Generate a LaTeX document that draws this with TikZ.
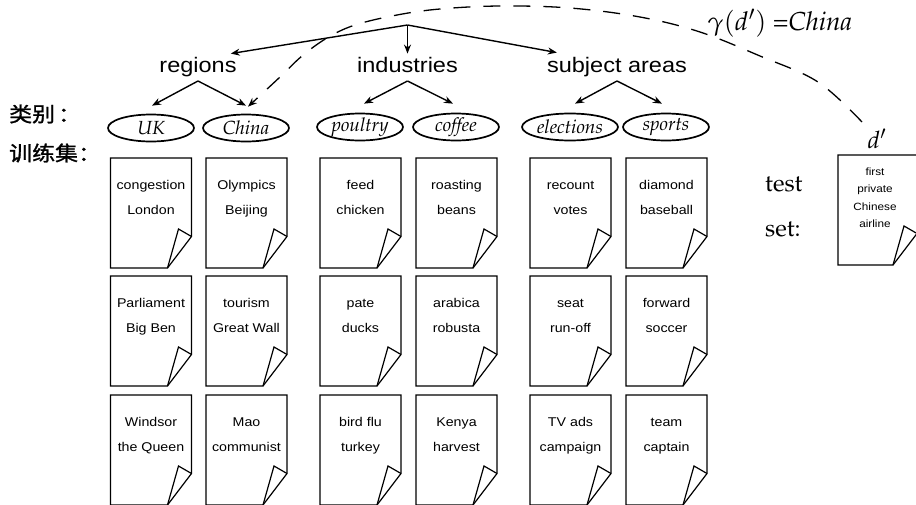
\documentclass[tikz,border=0pt]{standalone}
\usepackage[T1,TU]{fontenc}
\usepackage{mathpazo}
\usepackage{fontspec}
\newfontfamily\helv{Liberation Sans}[FakeStretch=1.12]
\newfontfamily\cjk{Noto Sans CJK SC}[FakeStretch=1.12,FakeBold=1.2]
\newcommand\pala{\usefont{T1}{ppl}{m}{n}}
\newcommand\palait{\usefont{T1}{ppl}{m}{it}}
\usetikzlibrary{arrows.meta,calc,shapes.geometric}

\tikzset{
  heading/.style={font=\helv\fontsize{21}{24}\selectfont, inner sep=0pt, anchor=base},
  cat/.style={ellipse, draw, line width=1.7pt, minimum width=86pt, minimum height=27pt,
    inner sep=0pt, font=\palait\fontsize{19}{21}\selectfont},
  arr/.style={line width=1.4pt, -{Stealth[length=9pt,width=7pt]}},
  dasharr/.style={line width=1.3pt, dash pattern=on 17pt off 13pt,
    -{Stealth[length=9pt,width=7pt]}},
  docframe/.style={minimum width=81pt, minimum height=110pt, inner sep=0pt, outer sep=0pt},
  docline/.style={line width=1.2pt, line join=miter},
  doctext/.style={font=\helv\fontsize{12.7}{14}\selectfont, anchor=base, inner sep=0pt},
  smalltext/.style={font=\helv\fontsize{10.5}{12}\selectfont, anchor=base, inner sep=0pt},
  serif/.style={font=\pala\fontsize{24}{26}\selectfont, inner sep=0pt},
  cjklabel/.style={font=\cjk\fontsize{20.5}{22}\selectfont, inner sep=0pt, anchor=west}
}

% page outline with a folded bottom-right corner
\newcommand\pageoutline[1]{%
  \draw[docline] (#1.north west) -- (#1.north east)
    -- ($(#1.south east)+(0,-31.5)$) -- ($(#1.south east)+(-24,0)$)
    -- (#1.south west) -- cycle;
  \draw[docline] ($(#1.south east)+(-24,0)$) -- ($(#1.south east)+(-13,-39)$)
    -- ($(#1.south east)+(0,-31.5)$);
}
% training document: name, centre x, top y, first line, second line
\newcommand\docpage[5]{%
  \node[docframe] (#1) at (#2,#3+55) {};
  \pageoutline{#1}
  \node[doctext] (#1-a) at ($(#1.north)+(0,31.5)$) {#4};
  \node[doctext] (#1-b) at ($(#1.north)+(0,56.5)$) {#5};
}

\begin{document}
\begin{tikzpicture}[x=1pt,y=-1pt]
\useasboundingbox (0,0) rectangle (916,504);

% class hierarchy
\coordinate (root) at (407.5,25);
\node[heading] (regions) at (198,72) {regions};
\node[heading] (industries) at (407.5,72) {industries};
\node[heading] (subject) at (617,72) {subject areas};

\draw[arr] (root) -- ($(regions.north east)+(-6,-3)$);
\draw[arr] (root) -- ($(industries.north)+(0,-3)$);
\draw[arr] (root) -- ($(subject.north west)+(10,-4)$);

\node[cat] (UK) at (151,128) {UK};
\node[cat] (China) at (246,128) {China};
\node[cat] (poultry) at (360,127) {poultry};
\node[cat] (coffee) at (456,127) {coffee};
\node[cat, minimum width=96pt] (elections) at (570,127) {elections};
\node[cat] (sports) at (666,127) {sports};

\draw[arr] ($(regions.base)+(0,9)$) -- ($(UK.north)+(1,-8)$);
\draw[arr] ($(regions.base)+(0,9)$) -- ($(China.north)+(0,-8)$);
\draw[arr] ($(industries.base)+(0,9)$) -- ($(poultry.north)+(4,-9)$);
\draw[arr] ($(industries.base)+(0,9)$) -- ($(coffee.north)+(-3,-9)$);
\draw[arr] ($(subject.base)+(0,9)$) -- ($(elections.north)+(5,-9)$);
\draw[arr] ($(subject.base)+(0,9)$) -- ($(sports.north)+(-4,-9)$);

% row labels
\node[cjklabel] (catlbl) at (9,114) {类别\hspace{3pt}：};
\node[cjklabel] (trainlbl) at (9,153) {训练集：};

% training documents
\docpage{d11}{151}{158}{congestion}{London}
\docpage{d12}{151}{276}{Parliament}{Big Ben}
\docpage{d13}{151}{395}{Windsor}{the Queen}
\docpage{d21}{246.5}{158}{Olympics}{Beijing}
\docpage{d22}{246.5}{276}{tourism}{Great Wall}
\docpage{d23}{246.5}{395}{Mao}{communist}
\docpage{d31}{360.5}{158}{feed}{chicken}
\docpage{d32}{360.5}{276}{pate}{ducks}
\docpage{d33}{360.5}{395}{bird flu}{turkey}
\docpage{d41}{456.5}{158}{roasting}{beans}
\docpage{d42}{456.5}{276}{arabica}{robusta}
\docpage{d43}{456.5}{395}{Kenya}{harvest}
\docpage{d51}{570.5}{158}{recount}{votes}
\docpage{d52}{570.5}{276}{seat}{run-off}
\docpage{d53}{570.5}{395}{TV ads}{campaign}
\docpage{d61}{666.5}{158}{diamond}{baseball}
\docpage{d62}{666.5}{276}{forward}{soccer}
\docpage{d63}{666.5}{395}{team}{captain}

% test set
\node[serif, anchor=base west] (testlbl) at (765,191.5) {test};
\node[serif, anchor=base west] (setlbl) at (765,236) {set:};
\node[docframe, minimum width=79pt] (test) at (877.5,210) {};
\pageoutline{test}
\node[smalltext] (t1) at (875,175) {first};
\node[smalltext] (t2) at (875,192.5) {private};
\node[smalltext] (t3) at (875,210) {Chinese};
\node[smalltext] (t4) at (875,227.5) {airline};
\node[serif, anchor=base] (dlabel) at (877,148) {$d'$};

% classification of the test document
\node[serif, anchor=base west, font=\pala\fontsize{26}{28}\selectfont] (gamma) at (707,30)
  {$\gamma(d')$ =\textit{China}};
\coordinate (dstart) at (862,122);
\coordinate (cend) at ($(China.north)+(2,-7)$);
\draw[dasharr] plot[smooth, tension=0.6] coordinates {
  (dstart) (818,82) (760,56) (700,32) (640,17) (570,8) (500,6)
  (440,9) (397,15) (355,25) (327,38) (302,56) (280,77) (cend)};
\end{tikzpicture}
\end{document}
